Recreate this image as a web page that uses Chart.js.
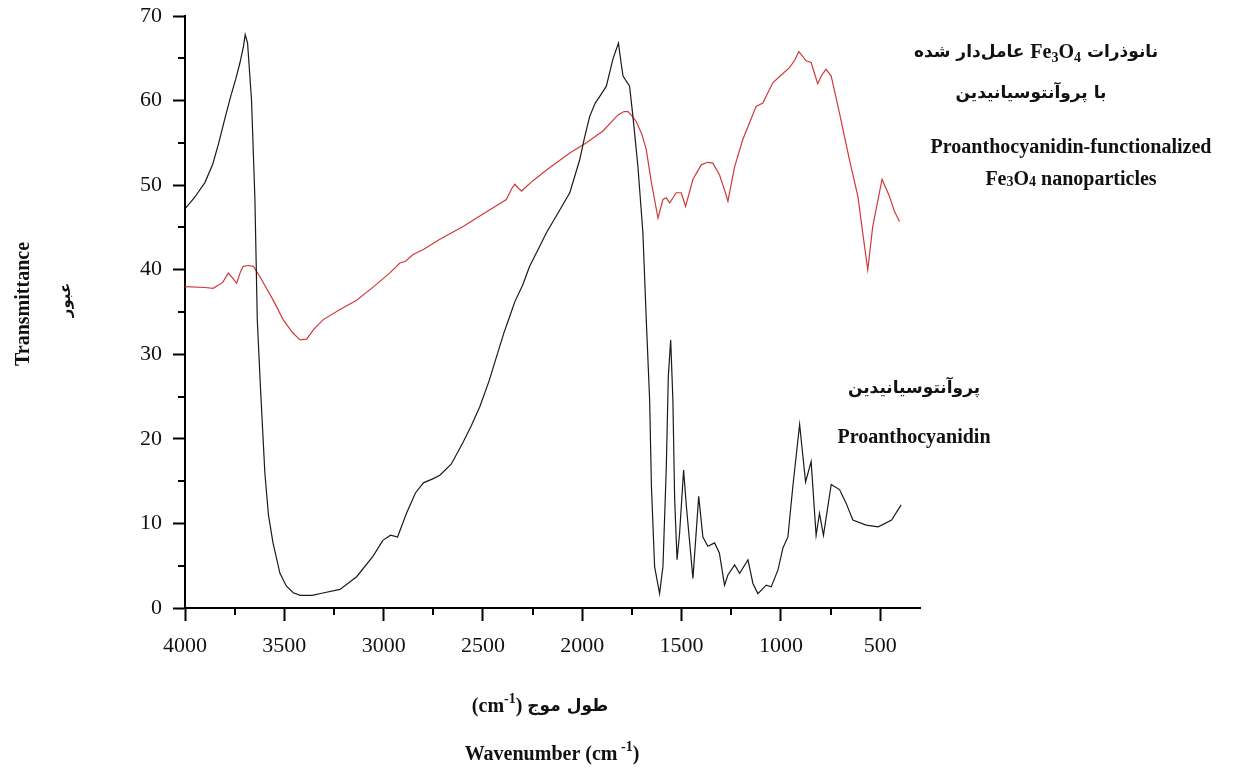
<!DOCTYPE html>
<html>
<head>
<meta charset="utf-8">
<script src="https://cdn.jsdelivr.net/npm/chart.js@4.4.1/dist/chart.umd.min.js"></script>
<style>
  html, body { margin: 0; padding: 0; background: #fff; }
  #wrap { width: 1251px; height: 773px; }
</style>
</head>
<body>
<div id="wrap"><canvas id="ftir"></canvas></div>
<script>
// Proanthocyanidin (black)
var blackX = [4000, 3950, 3900, 3860, 3830, 3800, 3770, 3745, 3723, 3705, 3697, 3685, 3665, 3648, 3636, 3620, 3598, 3580, 3557, 3522, 3490, 3455, 3420, 3360, 3300, 3220, 3136, 3054, 3004, 2965, 2930, 2885, 2840, 2800, 2750, 2717, 2660, 2602, 2560, 2516, 2470, 2432, 2395, 2365, 2340, 2300, 2265, 2220, 2180, 2120, 2063, 2013, 1990, 1963, 1935, 1912, 1879, 1846, 1818, 1805, 1795, 1762, 1745, 1720, 1695, 1678, 1661, 1652, 1636, 1611, 1594, 1577, 1567, 1555, 1544, 1535, 1523, 1510, 1490, 1476, 1443, 1414, 1393, 1368, 1334, 1310, 1284, 1267, 1233, 1208, 1166, 1141, 1116, 1074, 1049, 1015, 990, 965, 940, 906, 876, 848, 823, 806, 786, 747, 705, 672, 638, 571, 510, 443, 395];
var blackY = [47.2, 48.6, 50.3, 52.5, 55.0, 57.8, 60.5, 62.5, 64.5, 66.5, 67.8, 66.8, 60.0, 48.3, 34.0, 26.0, 16.0, 11.0, 7.7, 4.1, 2.6, 1.8, 1.5, 1.5, 1.8, 2.2, 3.7, 6.1, 8.0, 8.6, 8.4, 11.2, 13.6, 14.8, 15.3, 15.7, 17.0, 19.5, 21.5, 23.8, 26.8, 29.7, 32.5, 34.5, 36.2, 38.2, 40.4, 42.5, 44.4, 46.8, 49.1, 53.0, 55.5, 58.1, 59.7, 60.5, 61.7, 64.9, 66.8, 64.5, 62.9, 61.7, 58.1, 52.2, 44.4, 34.1, 24.6, 14.4, 4.9, 1.7, 4.9, 16.7, 27.4, 31.7, 24.6, 12.8, 5.7, 8.9, 16.3, 12.0, 3.5, 13.2, 8.4, 7.3, 7.7, 6.5, 2.7, 3.9, 5.1, 4.1, 5.7, 2.9, 1.7, 2.7, 2.5, 4.5, 7.1, 8.4, 14.4, 21.7, 14.9, 17.3, 8.6, 11.2, 8.6, 14.6, 14.0, 12.4, 10.4, 9.8, 9.6, 10.4, 12.2];

// Proanthocyanidin-functionalized Fe3O4 (red)
var redX = [4000, 3900, 3858, 3810, 3782, 3760, 3740, 3720, 3707, 3680, 3656, 3623, 3590, 3556, 3506, 3460, 3421, 3388, 3350, 3304, 3220, 3136, 3050, 2970, 2918, 2890, 2852, 2800, 2717, 2600, 2500, 2382, 2355, 2340, 2320, 2306, 2250, 2180, 2063, 1979, 1896, 1820, 1790, 1770, 1750, 1728, 1700, 1678, 1652, 1619, 1594, 1577, 1560, 1527, 1502, 1480, 1443, 1401, 1370, 1343, 1309, 1285, 1267, 1233, 1192, 1125, 1091, 1041, 1000, 957, 930, 910, 873, 848, 815, 795, 773, 747, 705, 655, 613, 588, 563, 538, 491, 454, 429, 403];
var redY = [38.0, 37.9, 37.8, 38.5, 39.6, 39.0, 38.4, 39.8, 40.4, 40.5, 40.4, 39.2, 37.8, 36.4, 34.1, 32.6, 31.7, 31.8, 33.0, 34.1, 35.3, 36.4, 38.0, 39.6, 40.8, 41.0, 41.8, 42.4, 43.6, 45.1, 46.6, 48.3, 49.6, 50.1, 49.6, 49.3, 50.5, 51.8, 53.8, 55.0, 56.4, 58.3, 58.7, 58.7, 58.2, 57.5, 56.0, 54.2, 50.3, 46.1, 48.3, 48.5, 47.9, 49.1, 49.1, 47.5, 50.7, 52.4, 52.7, 52.6, 51.2, 49.5, 48.1, 52.2, 55.4, 59.3, 59.7, 62.1, 63.0, 63.9, 64.8, 65.8, 64.7, 64.5, 62.0, 63.0, 63.7, 62.9, 58.5, 53.0, 48.7, 44.3, 40.0, 45.1, 50.7, 48.7, 46.9, 45.7];

var xTicks = [4000, 3500, 3000, 2500, 2000, 1500, 1000, 500];
var xMinor = [3750, 3250, 2750, 2250, 1750, 1250, 750];
var yMinor = [5, 15, 25, 35, 45, 55, 65];

function pts(xs, ys) {
  return xs.map(function (x, i) { return { x: x, y: ys[i] }; });
}

var SERIF = "'Liberation Serif', 'Times New Roman', serif";
var FA = "'DejaVu Sans', sans-serif";

// draw a row of text pieces centred on (cx, cy); piece = [text, font, dy]
function rich(ctx, parts, cx, cy) {
  var w = 0;
  parts.forEach(function (p) { ctx.font = p[1]; w += ctx.measureText(p[0]).width; });
  var x = cx - w / 2;
  ctx.textAlign = "left";
  ctx.textBaseline = "middle";
  parts.forEach(function (p) {
    ctx.font = p[1];
    ctx.fillText(p[0], x, cy + (p[2] || 0));
    x += ctx.measureText(p[0]).width;
  });
}

var extras = {
  id: "extras",
  afterDraw: function (chart) {
    var ctx = chart.ctx;
    var xs = chart.scales.x, ys = chart.scales.y;
    var a = chart.chartArea;
    ctx.save();
    // minor ticks
    ctx.strokeStyle = "#000";
    ctx.lineWidth = 2;
    xMinor.forEach(function (v) {
      var px = Math.round(xs.getPixelForValue(v));
      ctx.beginPath(); ctx.moveTo(px, a.bottom); ctx.lineTo(px, a.bottom + 7); ctx.stroke();
    });
    yMinor.forEach(function (v) {
      var py = Math.round(ys.getPixelForValue(v));
      ctx.beginPath(); ctx.moveTo(a.left - 7, py); ctx.lineTo(a.left, py); ctx.stroke();
    });

    ctx.fillStyle = "#111";
    var B = "bold 20px " + SERIF;
    var Bs = "bold 14px " + SERIF;
    var F = "bold 17px " + FA;

    // annotations, red series
    rich(ctx, [["عامل‌دار شده ", F], ["Fe", B], ["3", Bs, 5], ["O", B], ["4", Bs, 5], [" نانوذرات", F]], 1036, 53);
    rich(ctx, [["با پروآنتوسیانیدین", F]], 1031, 94);
    rich(ctx, [["Proanthocyanidin-functionalized", B]], 1071, 148);
    rich(ctx, [["Fe", B], ["3", Bs, 2], ["O", B], ["4", Bs, 2], [" nanoparticles", B]], 1071, 180);

    // annotations, black series
    rich(ctx, [["پروآنتوسیانیدین", F]], 914, 389);
    rich(ctx, [["Proanthocyanidin", B]], 914, 438);

    // x axis titles
    rich(ctx, [["(cm", B], ["-1", Bs, -8], [") ", B], ["طول موج", F]], 540, 707);
    rich(ctx, [["Wavenumber (cm", B], [" -1", Bs, -8], [")", B]], 552, 755);

    // y axis titles
    ctx.translate(24, 304);
    ctx.rotate(-Math.PI / 2);
    rich(ctx, [["Transmittance", B]], 0, 0);
    ctx.setTransform(1, 0, 0, 1, 0, 0);
    ctx.translate(66, 300);
    ctx.rotate(-Math.PI / 2);
    rich(ctx, [["عبور", "bold 15px " + FA]], 0, 0);
    ctx.restore();
  }
};

new Chart(document.getElementById("ftir"), {
  type: "line",
  data: {
    datasets: [
      {
        label: "Proanthocyanidin",
        data: pts(blackX, blackY),
        borderColor: "#1a1a1a",
        borderWidth: 1.2,
        pointRadius: 0,
        tension: 0
      },
      {
        label: "Proanthocyanidin-functionalized Fe3O4",
        data: pts(redX, redY),
        borderColor: "#d03a3a",
        borderWidth: 1.2,
        pointRadius: 0,
        tension: 0
      }
    ]
  },
  options: {
    responsive: true,
    maintainAspectRatio: false,
    animation: false,
    events: [],
    layout: { padding: { left: 0, right: 331, top: 16, bottom: 0 } },
    plugins: { legend: { display: false }, tooltip: { enabled: false } },
    scales: {
      x: {
        type: "linear",
        reverse: true,
        min: 300,
        max: 4000,
        afterBuildTicks: function (s) { s.ticks = xTicks.map(function (v) { return { value: v }; }); },
        afterFit: function (s) { s.height = 165; s.paddingLeft = 0; s.paddingRight = 0; },
        ticks: { font: { family: SERIF, size: 22 }, color: "#111", padding: 12, maxRotation: 0, autoSkip: false,
                 callback: function (v) { return String(v); } },
        grid: { drawOnChartArea: false, tickLength: 13, tickColor: "#000", tickWidth: 2 },
        border: { color: "#000", width: 2 }
      },
      y: {
        min: 0,
        max: 70,
        afterFit: function (s) { s.width = 185; s.paddingTop = 0; s.paddingBottom = 0; },
        ticks: { stepSize: 10, font: { family: SERIF, size: 22 }, color: "#111", padding: 11 },
        grid: { drawOnChartArea: false, tickLength: 12, tickColor: "#000", tickWidth: 2 },
        border: { color: "#000", width: 2 }
      }
    }
  },
  plugins: [extras]
});
</script>
</body>
</html>
